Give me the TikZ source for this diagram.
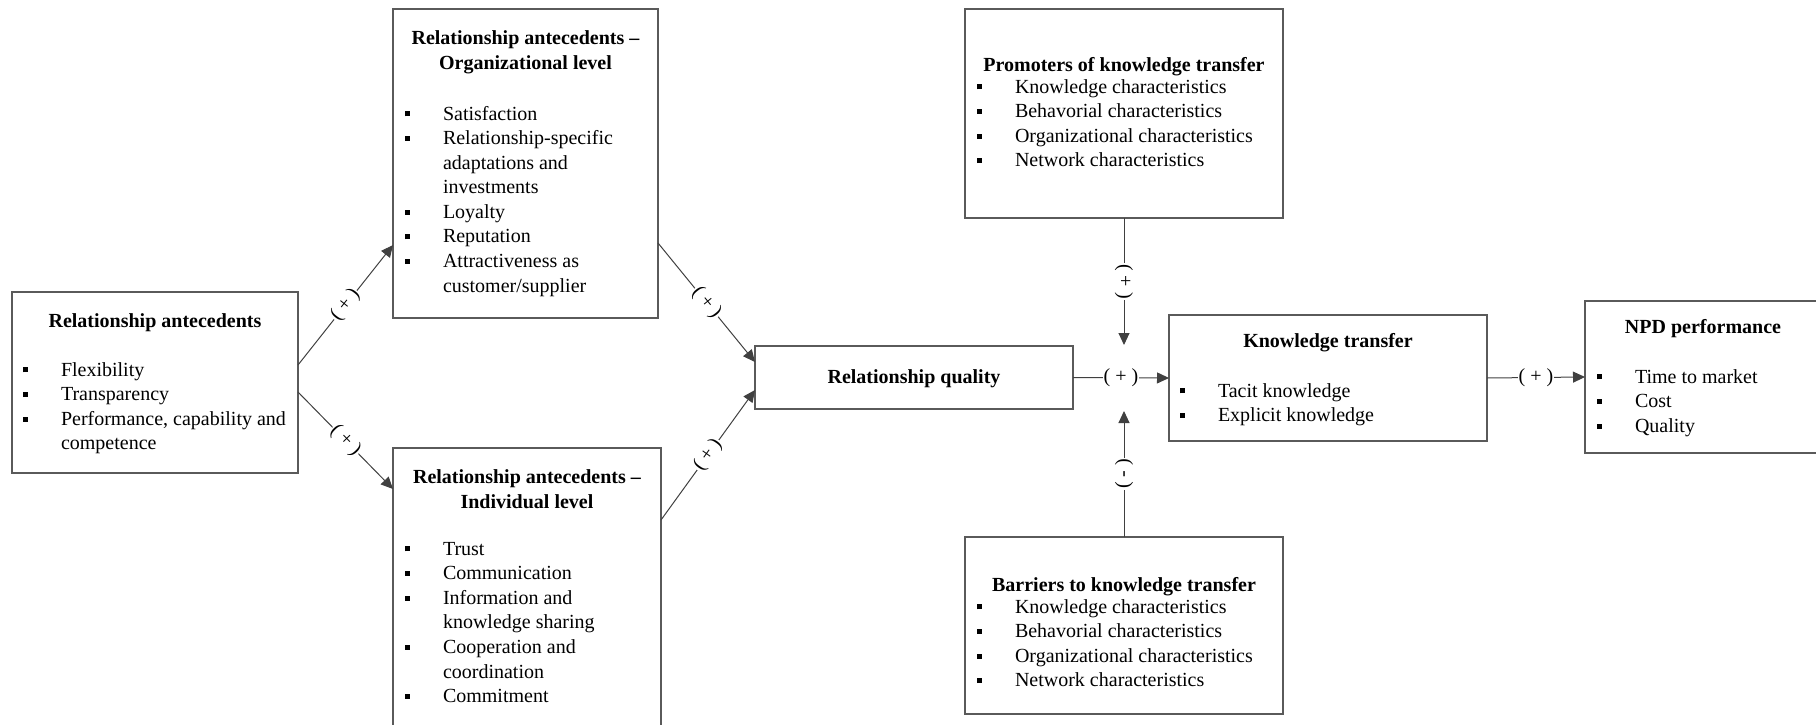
\documentclass[tikz,border=0pt]{standalone}
\usepackage{fontspec}
\setmainfont{Liberation Serif}
\usetikzlibrary{arrows.meta}
\definecolor{linec}{HTML}{404040}
\definecolor{boxc}{HTML}{5A5A5A}
\newcommand{\bul}{\leavevmode\llap{\rule[3.7pt]{5pt}{5pt}\hspace{33.5pt}}}
\newcommand{\blist}[2]{\parbox[t]{#1}{\fontsize{20}{24.6}\selectfont\raggedright #2}}
\newcommand{\bhead}[2]{\parbox[t]{#1}{\centering #2}}
\tikzset{
  boxnode/.style={draw=boxc, line width=1.2pt, inner sep=0pt, outer sep=0pt, anchor=north west},
  txt/.style={inner sep=0pt, outer sep=0pt, anchor=base west, text=black},
  head/.style={inner sep=0pt, outer sep=0pt, anchor=base, text=black, font=\bfseries\fontsize{20}{25}\selectfont},
  conn/.style={draw=linec, line width=1pt, -{Triangle[length=12pt,width=11pt]}},
  lab/.style={fill=white, inner sep=1pt, text=black, font=\fontsize{20}{24}\selectfont},
}
\begin{document}
\begin{tikzpicture}[x=1pt,y=-1pt]
\useasboundingbox (0,0) rectangle (1816,725);
% boxes
\node[boxnode, minimum width=286pt, minimum height=181pt] (b1) at (12,292) {};
\node[boxnode, minimum width=265pt, minimum height=309pt] (b2) at (393,9) {};
\node[boxnode, minimum width=268pt, minimum height=320pt] (b3) at (393,448) {};
\node[boxnode, minimum width=318pt, minimum height=63pt] (rq) at (755,346) {};
\node[boxnode, minimum width=318pt, minimum height=126pt] (kt) at (1169,315) {};
\node[boxnode, minimum width=240pt, minimum height=152pt] (npd) at (1585,301) {};
\node[boxnode, minimum width=318pt, minimum height=209pt] (prom) at (965,9) {};
\node[boxnode, minimum width=318pt, minimum height=177pt] (barr) at (965,537) {};
% headings
\node[head] (h1) at (155,327) {Relationship antecedents};
\node[head] (h2) at (525.5,45) {\bhead{255pt}{Relationship antecedents –\\Organizational level}};
\node[head] (h3) at (527,483) {\bhead{258pt}{Relationship antecedents –\\Individual level}};
\node[head] (hrq) at (914,383) {Relationship quality};
\node[head] (hkt) at (1328,347) {Knowledge transfer};
\node[head] (hnpd) at (1703,333) {NPD performance};
\node[head] (hprom) at (1124,71) {Promoters of knowledge transfer};
\node[head] (hbarr) at (1124,591) {Barriers to knowledge transfer};
% lists
\node[txt] (t1) at (61,376) {\blist{232pt}{\bul Flexibility\par\bul Transparency\par\bul Performance, capability and\\competence}};
\node[txt] (t2) at (443,120) {\blist{205pt}{\bul Satisfaction\par\bul Relationship-specific\\adaptations and\\investments\par\bul Loyalty\par\bul Reputation\par\bul Attractiveness as\\customer/supplier}};
\node[txt] (t3) at (443,555) {\blist{205pt}{\bul Trust\par\bul Communication\par\bul Information and\\knowledge sharing\par\bul Cooperation and\\coordination\par\bul Commitment}};
\node[txt] (tprom) at (1015,93) {\blist{262pt}{\bul Knowledge characteristics\par\bul Behavorial characteristics\par\bul Organizational characteristics\par\bul Network characteristics}};
\node[txt] (tbarr) at (1015,613) {\blist{262pt}{\bul Knowledge characteristics\par\bul Behavorial characteristics\par\bul Organizational characteristics\par\bul Network characteristics}};
\node[txt] (tkt) at (1218,397) {\blist{250pt}{\bul Tacit knowledge\par\bul Explicit knowledge}};
\node[txt] (tnpd) at (1635,383) {\blist{175pt}{\bul Time to market\par\bul Cost\par\bul Quality}};
% free ends
\coordinate (ptip) at (1124,345);
\coordinate (btip) at (1124,411);
% connectors
\draw[conn] ([yshift=-73pt]b1.north east) -- node[lab,sloped] (c1) {( + )} ([yshift=-236pt]b2.north west);
\draw[conn] ([yshift=-100pt]b1.north east) -- node[lab,sloped] (c2) {( + )} ([yshift=-41pt]b3.north west);
\draw[conn] ([yshift=-234pt]b2.north east) -- node[lab,sloped] (c3) {( + )} ([yshift=-16pt]rq.north west);
\draw[conn] ([yshift=-72pt]b3.north east) -- node[lab,sloped] (c4) {( + )} ([yshift=-44pt]rq.north west);
\draw[conn] (rq.east) -- node[lab] (c5) {( + )} (kt.west);
\draw[conn] (kt.east) -- node[lab] (c6) {( + )} (npd.west);
\draw[conn] (prom.south) -- node[lab,sloped] (c7) {( + )} (ptip);
\draw[conn] (barr.north) -- node[lab,sloped] (c8) {( - )} (btip);
\end{tikzpicture}
\end{document}
